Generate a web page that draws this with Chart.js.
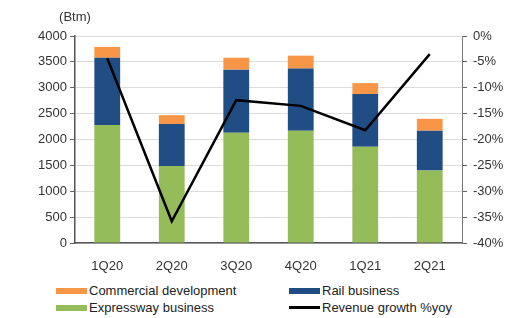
<!DOCTYPE html>
<html>
<head>
<meta charset="utf-8">
<script src="https://cdn.jsdelivr.net/npm/chart.js@4/dist/chart.umd.min.js"></script>
<style>
  body { margin: 0; background: #fff; font-family: "Liberation Sans", Arial, sans-serif; }
  #wrap { position: relative; width: 519px; height: 318px; }
  #box { position: absolute; left: 0; top: 0; width: 519px; height: 275px; }
  #legend { position: absolute; left: 0; top: 283px; width: 519px; font-size: 13px; color: #222; }
  .item { position: absolute; display: flex; align-items: center; white-space: nowrap; }
  .swatch { display: inline-block; width: 31px; height: 6px; margin-right: 2px; }
  .swatch.line { height: 3px; }
</style>
</head>
<body>
<div id="wrap">
  <div id="box"><canvas id="chart1"></canvas></div>
  <div id="legend"></div>
</div>
<script>
const quarters = ['1Q20', '2Q20', '3Q20', '4Q20', '1Q21', '2Q21'];
const expressway = [2280, 1490, 2130, 2170, 1860, 1400];
const rail = [1300, 810, 1220, 1200, 1020, 770];
const commercial = [210, 170, 230, 250, 210, 230];
const growth = [-4.3, -35.8, -12.4, -13.5, -18.2, -3.5];

const font = { family: '"Liberation Sans", Arial, sans-serif', size: 13 };
const txt = '#333';

// "(Btm)" above the left axis
const unitLabel = {
  id: 'unitLabel',
  afterDraw(chart) {
    const ctx = chart.ctx;
    ctx.save();
    ctx.font = '13px "Liberation Sans", Arial, sans-serif';
    ctx.fillStyle = txt;
    ctx.textAlign = 'center';
    ctx.textBaseline = 'middle';
    ctx.fillText('(Btm)', chart.scales.y.right, 17);
    ctx.restore();
  }
};

const chart = new Chart('chart1', {
  data: {
    labels: quarters,
    datasets: [
      { type: 'line', label: 'Revenue growth %yoy', data: growth, yAxisID: 'y1',
        borderColor: '#000', backgroundColor: '#000', borderWidth: 2.5,
        pointRadius: 0, tension: 0, order: 0 },
      { type: 'bar', label: 'Expressway business', data: expressway, yAxisID: 'y',
        backgroundColor: '#94bd5a', categoryPercentage: 0.8, barPercentage: 0.5, order: 1 },
      { type: 'bar', label: 'Rail business', data: rail, yAxisID: 'y',
        backgroundColor: '#214d85', categoryPercentage: 0.8, barPercentage: 0.5, order: 1 },
      { type: 'bar', label: 'Commercial development', data: commercial, yAxisID: 'y',
        backgroundColor: '#f79646', categoryPercentage: 0.8, barPercentage: 0.5, order: 1 }
    ]
  },
  plugins: [unitLabel],
  options: {
    responsive: true,
    maintainAspectRatio: false,
    animation: false,
    layout: { padding: { top: 36, left: 0, right: 0, bottom: 0 } },
    plugins: { legend: { display: false }, tooltip: { enabled: false } },
    scales: {
      x: {
        stacked: true,
        grid: { display: false },
        border: { color: '#555', width: 1.5 },
        ticks: { font: font, color: txt, padding: 8 },
        afterFit(s) { s.height = 32; }
      },
      y: {
        stacked: true,
        position: 'left',
        min: 0, max: 4000,
        ticks: { stepSize: 500, font: font, color: txt, padding: 3, callback: v => String(v) },
        grid: { color: '#dcdcdc', tickColor: '#666', tickLength: 5 },
        border: { color: '#555', width: 1.5 },
        afterFit(s) { s.width = 75; }
      },
      y1: {
        position: 'right',
        min: -40, max: 0,
        ticks: { stepSize: 5, font: font, color: txt, padding: 6, callback: v => v + '%' },
        grid: { drawOnChartArea: false, tickColor: '#666', tickLength: 5 },
        border: { color: '#777', width: 1 },
        afterFit(s) { s.width = 57; }
      }
    }
  }
});

// two-column legend like the original
const legendSpots = [
  { label: 'Commercial development', left: 56, top: 0 },
  { label: 'Rail business', left: 289, top: 0 },
  { label: 'Expressway business', left: 56, top: 17 },
  { label: 'Revenue growth %yoy', left: 289, top: 17 }
];
const legendEl = document.getElementById('legend');
legendSpots.forEach(spot => {
  const ds = chart.data.datasets.find(d => d.label === spot.label);
  const item = document.createElement('div');
  item.className = 'item';
  item.style.left = spot.left + 'px';
  item.style.top = spot.top + 'px';
  const sw = document.createElement('span');
  sw.className = 'swatch' + (ds.type === 'line' ? ' line' : '');
  sw.style.background = ds.type === 'line' ? ds.borderColor : ds.backgroundColor;
  item.appendChild(sw);
  item.appendChild(document.createTextNode(ds.label));
  legendEl.appendChild(item);
});
</script>
</body>
</html>
